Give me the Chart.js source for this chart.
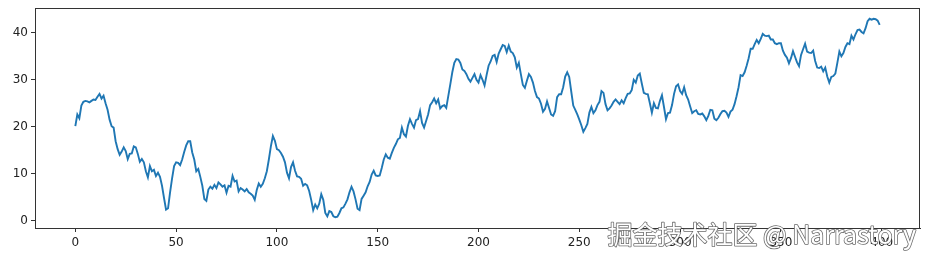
<!DOCTYPE html>
<html>
<head>
<meta charset="utf-8">
<script src="https://cdn.jsdelivr.net/npm/chart.js@4"></script>
<style>
  html, body { margin: 0; padding: 0; background: #fff; }
  canvas { display: block; }
</style>
</head>
<body>
<canvas id="walk_chart" width="927" height="259"></canvas>
<script>
// random walk values (index 0..399)
var walkValues = [
    20.1, 22.6, 21.8, 24.5, 25.3, 25.5, 25.4, 25.2, 25.5, 25.8,
    25.7, 26.4, 27.0, 26.0, 26.6, 25.0, 23.6, 21.5, 20.1, 19.8,
    16.9, 15.2, 14.0, 14.7, 15.6, 14.8, 13.1, 14.2, 14.3, 15.8,
    15.6, 14.2, 12.5, 13.1, 12.4, 10.5, 9.2, 11.6, 10.5, 10.8,
    9.5, 10.2, 9.3, 7.4, 4.8, 2.3, 2.6, 6.0, 9.0, 11.6,
    12.4, 12.3, 11.8, 13.0, 14.6, 16.0, 16.9, 16.9, 14.5, 13.0,
    10.5, 11.0, 9.3, 7.4, 4.6, 4.2, 6.6, 7.2, 6.8, 7.6,
    6.9, 8.1, 7.7, 7.2, 7.5, 5.9, 7.4, 7.2, 9.5, 8.3,
    8.5, 6.2, 6.9, 6.6, 6.2, 6.7, 6.0, 5.7, 5.3, 4.4,
    6.5, 7.9, 7.2, 7.8, 9.0, 10.5, 13.0, 15.8, 18.0, 17.0,
    15.2, 15.0, 14.4, 13.6, 12.4, 10.2, 9.0, 11.4, 12.4, 10.6,
    9.4, 9.3, 8.9, 7.4, 7.8, 7.5, 6.3, 4.4, 2.2, 3.4,
    2.6, 3.6, 5.6, 4.4, 1.6, 0.9, 2.0, 1.8, 0.9, 0.7,
    0.8, 1.6, 2.6, 2.8, 3.6, 4.5, 6.0, 7.2, 6.2, 4.5,
    2.5, 2.2, 4.6, 5.3, 6.0, 7.3, 8.2, 9.8, 10.6, 9.6,
    9.5, 9.6, 11.2, 13.0, 14.1, 13.4, 13.2, 14.4, 15.5, 16.3,
    17.3, 17.6, 19.8, 18.4, 17.9, 20.2, 21.6, 20.6, 19.8, 21.4,
    21.6, 23.3, 20.8, 19.8, 21.2, 22.6, 24.6, 25.2, 26.0, 25.0,
    25.8, 23.9, 24.4, 24.6, 24.0, 26.5, 29.0, 31.6, 33.6, 34.4,
    34.3, 33.6, 32.2, 31.9, 31.2, 30.2, 29.6, 30.4, 31.2, 30.0,
    29.4, 31.0, 30.0, 28.8, 31.0, 33.0, 33.9, 35.1, 35.3, 33.8,
    35.6, 36.5, 37.4, 37.2, 35.9, 37.3, 36.0, 35.7, 34.8, 32.6,
    33.6, 31.2, 28.9, 28.3, 29.8, 31.2, 30.6, 29.4, 27.6, 26.3,
    26.0, 24.9, 23.2, 23.8, 25.4, 24.0, 22.6, 22.3, 23.3, 26.3,
    26.9, 26.9, 28.4, 30.7, 31.6, 30.6, 27.5, 24.5, 23.6, 22.6,
    21.5, 20.3, 18.9, 19.7, 20.6, 23.0, 24.2, 22.9, 23.5, 24.6,
    25.3, 27.6, 27.2, 24.8, 23.5, 23.9, 24.5, 25.3, 25.8, 25.3,
    24.8, 25.6, 25.0, 26.1, 27.0, 27.1, 27.8, 30.0, 29.4, 30.9,
    31.3, 29.2, 27.2, 27.0, 26.9, 25.0, 23.0, 25.0, 24.0, 23.9,
    25.5, 26.7, 24.2, 21.6, 22.9, 23.0, 24.6, 27.0, 28.6, 29.0,
    27.6, 27.0, 28.4, 26.7, 25.8, 24.3, 22.9, 23.3, 23.5, 22.7,
    22.6, 22.8, 22.2, 21.4, 22.3, 23.6, 23.5, 21.7, 21.4, 21.9,
    22.7, 23.3, 23.4, 23.0, 22.1, 23.2, 23.6, 24.8, 26.5, 28.4,
    31.0, 30.8, 31.6, 33.0, 34.6, 36.6, 36.6, 37.6, 38.5, 37.8,
    38.7, 39.8, 39.4, 39.3, 39.4, 38.6, 38.6, 37.8, 37.6, 37.8,
    37.8, 36.2, 35.3, 34.7, 33.5, 34.6, 36.1, 34.9, 33.7, 32.9,
    35.3, 36.5, 37.7, 36.0, 35.8, 35.7, 36.2, 34.0, 32.6, 32.5,
    32.8, 31.8, 32.6, 30.7, 29.4, 30.6, 30.8, 31.3, 33.6, 36.0,
    35.0, 35.7, 37.0, 37.8, 37.6, 39.4, 38.6, 39.7, 40.6, 40.7,
    40.2, 39.9, 41.0, 42.5, 43.0, 42.8, 43.0, 42.9, 42.6, 41.7
];
var xTicks = [0, 50, 100, 150, 200, 250, 300, 350, 400];
var yTicks = [0, 10, 20, 30, 40];
var watermark = '掘金技术社区 @ Narrastory';

var walkPoints = walkValues.map(function (v, i) {
    return { x: i, y: v };
});

// matplotlib style frame all round the axes
var framePlugin = {
    id: 'frame',
    afterDatasetsDraw: function (chart) {
        var a = chart.chartArea;
        var ctx = chart.ctx;
        ctx.save();
        ctx.strokeStyle = '#333';
        ctx.lineWidth = 1;
        ctx.strokeRect(a.left + 0.5, a.top + 0.5, a.right - a.left - 1, a.bottom - a.top);
        ctx.restore();
    }
};

var watermarkPlugin = {
    id: 'watermark',
    afterDraw: function (chart) {
        var ctx = chart.ctx;
        ctx.save();
        ctx.font = '25px "Noto Sans CJK SC"';
        ctx.textAlign = 'right';
        ctx.textBaseline = 'alphabetic';
        ctx.lineJoin = 'round';
        ctx.strokeStyle = 'rgba(80,80,80,0.85)';
        ctx.lineWidth = 1.6;
        ctx.strokeText(watermark, 916, 244);
        ctx.fillStyle = '#fff';
        ctx.fillText(watermark, 916, 244);
        ctx.restore();
    }
};

// no extra room for half tick labels, the frame sits where the padding says
function noLabelPadding(scale) {
    scale.paddingTop = 0;
    scale.paddingBottom = 0;
    scale.paddingLeft = 0;
    scale.paddingRight = 0;
}

var walk_ctx = document.getElementById('walk_chart').getContext('2d');
var walk_chart = new Chart(walk_ctx, {
    type: 'line',
    data: {
        datasets: [{
            label: '',
            data: walkPoints,
            borderColor: '#1f77b4',
            backgroundColor: '#1f77b4',
            borderWidth: 1.9,
            pointRadius: 0,
            tension: 0,
            fill: false
        }]
    },
    options: {
        responsive: false,
        animation: false,
        layout: {
            padding: { top: 8, right: 7, left: 0, bottom: 0 }
        },
        plugins: {
            legend: { display: false },
            tooltip: { enabled: false }
        },
        scales: {
            x: {
                type: 'linear',
                min: -20,
                max: 419,
                afterBuildTicks: function (scale) {
                    scale.ticks = xTicks.map(function (v) { return { value: v }; });
                },
                afterFit: function (scale) {
                    scale.height = 31;
                    noLabelPadding(scale);
                },
                grid: {
                    drawOnChartArea: false,
                    drawTicks: true,
                    tickLength: 4,
                    color: '#333'
                },
                border: { display: true, color: '#333', width: 1 },
                ticks: {
                    color: '#222',
                    padding: 4,
                    maxRotation: 0,
                    font: { family: 'DejaVu Sans', size: 12 }
                }
            },
            y: {
                type: 'linear',
                min: -1.6,
                max: 45.3,
                afterBuildTicks: function (scale) {
                    scale.ticks = yTicks.map(function (v) { return { value: v }; });
                },
                afterFit: function (scale) {
                    scale.width = 35;
                    noLabelPadding(scale);
                },
                grid: {
                    drawOnChartArea: false,
                    drawTicks: true,
                    tickLength: 4,
                    color: '#333'
                },
                border: { display: true, color: '#333', width: 1 },
                ticks: {
                    color: '#222',
                    padding: 3,
                    font: { family: 'DejaVu Sans', size: 12 }
                }
            }
        }
    },
    plugins: [framePlugin, watermarkPlugin]
});
</script>
</body>
</html>
